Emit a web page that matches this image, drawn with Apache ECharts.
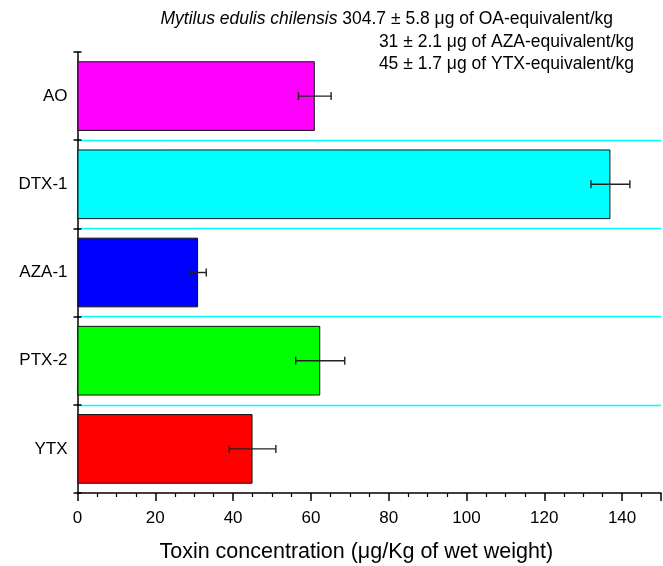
<!DOCTYPE html>
<html>
<head>
<meta charset="utf-8">
<script src="https://cdn.jsdelivr.net/npm/echarts@6/dist/echarts.min.js"></script>
<style>
  html, body { margin: 0; padding: 0; background: #fff; }
  #chart { width: 663px; height: 566px; }
</style>
</head>
<body>
<div id="chart"></div>
<script>
// Toxin profile per compound (μg/Kg wet weight), mean ± SD
const categories = ['AO', 'DTX-1', 'AZA-1', 'PTX-2', 'YTX'];
const values = [61, 137, 31, 62.4, 45];
const errors = [4.2, 5, 2.1, 6.3, 6];
const barColors = ['#ff00ff', '#00ffff', '#0000ff', '#00ff00', '#ff0000'];

const FONT = '"Liberation Sans", Arial, sans-serif';

const chart = echarts.init(document.getElementById('chart'), null, { renderer: 'canvas' });

const barData = values.map((v, i) => ({
  value: v,
  itemStyle: { color: barColors[i] }
}));
const errData = values.map((v, i) => [v, i, errors[i]]);

const option = {
  backgroundColor: '#ffffff',
  animation: false,
  grid: { left: 77.5, right: 2, top: 52, bottom: 73, containLabel: false, outerBoundsMode: 'none' },
  xAxis: {
    type: 'value',
    min: 0,
    max: 150,
    interval: 20,
    axisLine: { show: true, lineStyle: { color: '#000', width: 1.5 } },
    axisTick: { show: true, length: 8, lineStyle: { color: '#000', width: 1.5 } },
    minorTick: { show: true, splitNumber: 4, length: 4, lineStyle: { color: '#000', width: 1.2 } },
    splitLine: { show: false },
    axisLabel: {
      color: '#000', fontFamily: FONT, fontSize: 17, margin: 17,
      showMaxLabel: false
    },
    name: 'Toxin concentration (μg/Kg of wet weight)',
    nameLocation: 'middle',
    nameGap: 48,
    nameTextStyle: { color: '#000', fontFamily: FONT, fontSize: 21.5, padding: [0, 26, 0, 0] }
  },
  yAxis: [
    {
      type: 'category',
      data: categories,
      inverse: true,
      axisLine: { show: true, lineStyle: { color: '#000', width: 1.5 } },
      axisTick: { show: true, length: 4, lineStyle: { color: '#000', width: 1.5 } },
      splitLine: {
        show: true,
        showMinLine: false,
        showMaxLine: false,
        lineStyle: { color: '#00ffff', width: 1.3 }
      },
      axisLabel: { color: '#000', fontFamily: FONT, fontSize: 17, margin: 10 }
    },
    {
      // inward half of the crossing ticks on the category axis
      type: 'category',
      data: categories,
      inverse: true,
      position: 'left',
      axisLine: { show: false },
      axisTick: { show: true, inside: true, length: 4, lineStyle: { color: '#000', width: 1.5 } },
      axisLabel: { show: false },
      splitLine: { show: false }
    }
  ],
  series: [
    {
      type: 'bar',
      data: barData,
      barCategoryGap: '21%',
      itemStyle: { borderColor: '#111', borderWidth: 1 },
      z: 2
    },
    {
      type: 'custom',
      data: errData,
      encode: { x: 0, y: 1 },
      z: 3,
      renderItem: function (params, api) {
        const v = api.value(0);
        const idx = api.value(1);
        const e = api.value(2);
        const lo = api.coord([v - e, idx]);
        const hi = api.coord([v + e, idx]);
        const cap = 4;
        const style = { stroke: '#222', lineWidth: 1.4 };
        return {
          type: 'group',
          children: [
            { type: 'line', shape: { x1: lo[0], y1: lo[1], x2: hi[0], y2: hi[1] }, style: style },
            { type: 'line', shape: { x1: lo[0], y1: lo[1] - cap, x2: lo[0], y2: lo[1] + cap }, style: style },
            { type: 'line', shape: { x1: hi[0], y1: hi[1] - cap, x2: hi[0], y2: hi[1] + cap }, style: style }
          ]
        };
      }
    }
  ],
  graphic: [
    {
      type: 'text',
      right: 663 - 613,
      top: 10,
      style: {
        text: '{i|Mytilus edulis chilensis} 304.7 ± 5.8 μg of OA-equivalent/kg',
        fontFamily: FONT,
        fontSize: 17.5,
        fill: '#000',
        rich: { i: { fontStyle: 'italic', fontFamily: FONT, fontSize: 17.5, fill: '#000' } }
      }
    },
    {
      type: 'text',
      right: 663 - 634,
      top: 33,
      style: { text: '31 ± 2.1 μg of AZA-equivalent/kg', fontFamily: FONT, fontSize: 17.5, fill: '#000' }
    },
    {
      type: 'text',
      right: 663 - 634,
      top: 55,
      style: { text: '45 ± 1.7 μg of YTX-equivalent/kg', fontFamily: FONT, fontSize: 17.5, fill: '#000' }
    }
  ]
};

chart.setOption(option);
</script>
</body>
</html>
